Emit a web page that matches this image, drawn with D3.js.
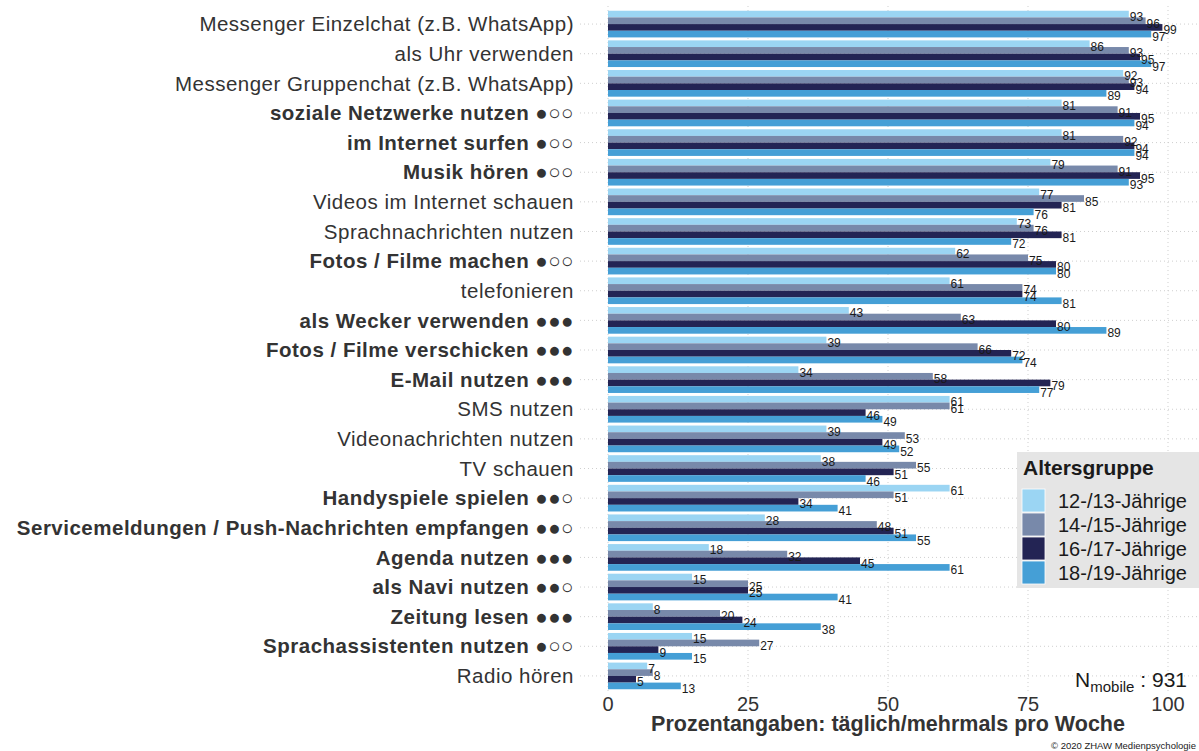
<!DOCTYPE html>
<html>
<head>
<meta charset="utf-8">
<script src="https://cdn.jsdelivr.net/npm/d3@7"></script>
<style>
  body { margin: 0; background: #fff; }
  text { font-family: "Liberation Sans", Arial, sans-serif; }
</style>
</head>
<body>
<div id="viz"></div>
<script>
var width = 1199;
var height = 751;

// categories, top to bottom
var categories = [
  "Messenger Einzelchat (z.B. WhatsApp)", "als Uhr verwenden", "Messenger Gruppenchat (z.B. WhatsApp)",
  "soziale Netzwerke nutzen ●○○", "im Internet surfen ●○○", "Musik hören ●○○",
  "Videos im Internet schauen", "Sprachnachrichten nutzen", "Fotos / Filme machen ●○○",
  "telefonieren", "als Wecker verwenden ●●●", "Fotos / Filme verschicken ●●●",
  "E-Mail nutzen ●●●", "SMS nutzen", "Videonachrichten nutzen", "TV schauen",
  "Handyspiele spielen ●●○", "Servicemeldungen / Push-Nachrichten empfangen ●●○",
  "Agenda nutzen ●●●", "als Navi nutzen ●●○", "Zeitung lesen ●●●",
  "Sprachassistenten nutzen ●○○", "Radio hören"
];
var boldCategories = [
  "soziale Netzwerke nutzen ●○○", "im Internet surfen ●○○", "Musik hören ●○○",
  "Fotos / Filme machen ●○○", "als Wecker verwenden ●●●", "Fotos / Filme verschicken ●●●",
  "E-Mail nutzen ●●●", "Handyspiele spielen ●●○", "Servicemeldungen / Push-Nachrichten empfangen ●●○",
  "Agenda nutzen ●●●", "als Navi nutzen ●●○", "Zeitung lesen ●●●", "Sprachassistenten nutzen ●○○"
];

var groups = ["12-/13-Jährige", "14-/15-Jährige", "16-/17-Jährige", "18-/19-Jährige"];
var colors = ["#9bd5f3", "#7889aa", "#232454", "#459fd6"];

var age12 = [93, 86, 92, 81, 81, 79, 77, 73, 62, 61, 43, 39, 34, 61, 39, 38, 61, 28, 18, 15, 8, 15, 7];
var age14 = [96, 93, 93, 91, 92, 91, 85, 76, 75, 74, 63, 66, 58, 61, 53, 55, 51, 48, 32, 25, 20, 27, 8];
var age16 = [99, 95, 94, 95, 94, 95, 81, 81, 80, 74, 80, 72, 79, 46, 49, 51, 34, 51, 45, 25, 24, 9, 5];
var age18 = [97, 97, 89, 94, 94, 93, 76, 72, 80, 81, 89, 74, 77, 49, 52, 46, 41, 55, 61, 41, 38, 15, 13];
var series = [age12, age14, age16, age18];

var xTicks = [0, 25, 50, 75, 100];

var rows = [];
categories.forEach(function(c, i){
  groups.forEach(function(g, j){
    rows.push({cat: c, group: g, value: series[j][i]});
  });
});

var margin = {left: 580, right: 3, top: 6, bottom: 57};

var svg = d3.select('#viz')
.append('svg')
.attr('width', width)
.attr('height', height);

var x = d3.scaleLinear()
.domain([-5, 105])
.range([margin.left, width - margin.right]);

var y = d3.scaleBand()
.domain(categories)
.range([margin.top, height - margin.bottom])
.paddingInner(0.1)
.paddingOuter(0.16);

var yInner = d3.scaleBand()
.domain(groups)
.range([0, y.bandwidth()]);

var color = d3.scaleOrdinal().domain(groups).range(colors);

// grid
svg.append('g')
.selectAll('line')
.data(xTicks)
.enter()
.append('line')
.attr('x1', d => x(d)).attr('x2', d => x(d))
.attr('y1', margin.top).attr('y2', height - margin.bottom)
.attr('stroke', '#cfcfcf')
.attr('stroke-dasharray', '1,3');

svg.append('g')
.selectAll('line')
.data(categories)
.enter()
.append('line')
.attr('x1', margin.left).attr('x2', width)
.attr('y1', d => y(d) + y.bandwidth() / 2).attr('y2', d => y(d) + y.bandwidth() / 2)
.attr('stroke', '#cfcfcf')
.attr('stroke-dasharray', '1,3');

// bars
svg.append('g')
.selectAll('rect')
.data(rows)
.enter()
.append('rect')
.attr('x', x(0))
.attr('y', d => y(d.cat) + yInner(d.group))
.attr('width', d => x(d.value) - x(0))
.attr('height', yInner.bandwidth())
.attr('fill', d => color(d.group));

// value labels
svg.append('g')
.selectAll('text')
.data(rows)
.enter()
.append('text')
.text(d => d.value)
.attr('x', d => x(d.value) + 1)
.attr('y', d => y(d.cat) + yInner(d.group) + yInner.bandwidth() / 2 + 7)
.attr('font-size', '12px')
.attr('fill', '#1a1a1a');

// y axis labels
svg.append('g')
.selectAll('text')
.data(categories)
.enter()
.append('text')
.text(d => d)
.attr('x', margin.left - 6)
.attr('y', d => y(d) + y.bandwidth() / 2)
.attr('dy', '0.35em')
.attr('text-anchor', 'end')
.attr('font-size', '20.5px')
.attr('letter-spacing', '0.5px')
.attr('font-weight', d => boldCategories.indexOf(d) >= 0 ? 'bold' : 'normal')
.attr('fill', '#333');

// x axis labels
svg.append('g')
.selectAll('text')
.data(xTicks)
.enter()
.append('text')
.text(d => d)
.attr('x', d => x(d))
.attr('y', 711)
.attr('text-anchor', 'middle')
.attr('font-size', '20px')
.attr('fill', '#333');

svg.append('text')
.text('Prozentangaben: täglich/mehrmals pro Woche')
.attr('x', x(50))
.attr('y', 731)
.attr('text-anchor', 'middle')
.attr('font-size', '21.5px')
.attr('font-weight', 'bold')
.attr('fill', '#333');

svg.append('text')
.text('© 2020 ZHAW Medienpsychologie')
.attr('x', 1196)
.attr('y', 749)
.attr('text-anchor', 'end')
.attr('font-size', '9.5px')
.attr('fill', '#1a1a1a');

// N annotation
var nText = svg.append('text')
.attr('x', 1187)
.attr('y', 687)
.attr('text-anchor', 'end')
.attr('font-size', '21px')
.attr('fill', '#1a1a1a');
nText.append('tspan').text('N');
nText.append('tspan').text('mobile').attr('font-size', '15px').attr('dy', 5);
nText.append('tspan').text(' : 931').attr('dy', -5);

// legend
var legend = svg.append('g').attr('transform', 'translate(1017,452)');
legend.append('rect')
.attr('width', 182).attr('height', 136)
.attr('fill', '#e5e5e5');
legend.append('text')
.text('Altersgruppe')
.attr('x', 6).attr('y', 23)
.attr('font-size', '21px')
.attr('font-weight', 'bold')
.attr('fill', '#1a1a1a');
legend.selectAll('.key')
.data(groups)
.enter()
.append('rect')
.attr('x', 5)
.attr('y', (d, i) => 37 + i * 24)
.attr('width', 23).attr('height', 23)
.attr('fill', d => color(d))
.attr('stroke', '#fff')
.attr('stroke-width', 0.8);
legend.selectAll('.lab')
.data(groups)
.enter()
.append('text')
.text(d => d)
.attr('x', 41)
.attr('y', (d, i) => 49 + i * 24)
.attr('dy', '0.35em')
.attr('font-size', '20px')
.attr('fill', '#1a1a1a');
</script>
</body>
</html>
